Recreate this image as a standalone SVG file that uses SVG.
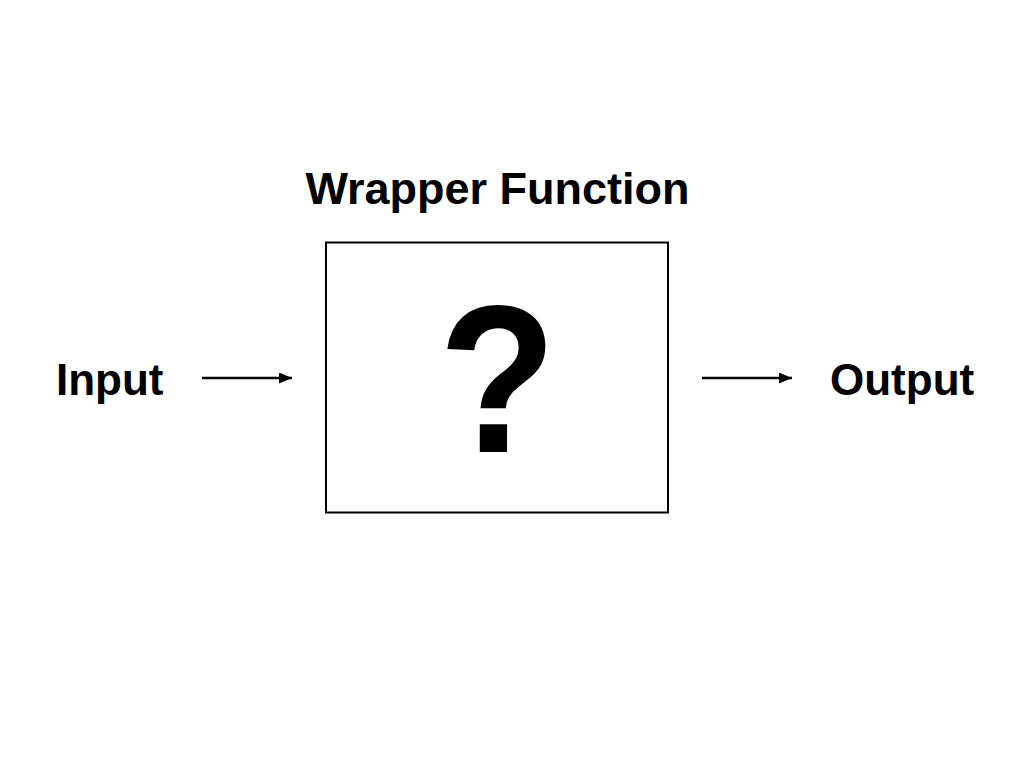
<svg xmlns="http://www.w3.org/2000/svg" width="1024" height="768" viewBox="0 0 1024 768">
<style>
.lbl{font-family:"Liberation Sans",Arial,sans-serif;font-weight:bold;fill:#000}
.conn{stroke:#000;stroke-width:2.5;fill:none}
</style>
<defs>
<marker id="ah" markerWidth="13" markerHeight="11" refX="13" refY="5.5" orient="auto" markerUnits="userSpaceOnUse">
<path d="M0,0 L13,5.5 L0,11 Z" fill="#000"/>
</marker>
</defs>
<rect width="1024" height="768" fill="#fff"/>
<g id="title"><text class="lbl" x="497.5" y="204" font-size="45" text-anchor="middle">Wrapper Function</text></g>
<g id="wrapper">
<rect x="326" y="242.5" width="342" height="270" fill="#fff" stroke="#000" stroke-width="2"/>
<text class="lbl" x="0" y="452" font-size="210" text-anchor="middle" transform="translate(497.5,0) scale(0.92,1)">?</text>
</g>
<g id="input"><text class="lbl" x="56" y="395" font-size="44">Input</text></g>
<g id="output"><text class="lbl" x="830" y="395" font-size="44">Output</text></g>
<g id="connectors">
<line class="conn" x1="202" y1="378" x2="292" y2="378" marker-end="url(#ah)"/>
<line class="conn" x1="702" y1="378" x2="792" y2="378" marker-end="url(#ah)"/>
</g>
</svg>
